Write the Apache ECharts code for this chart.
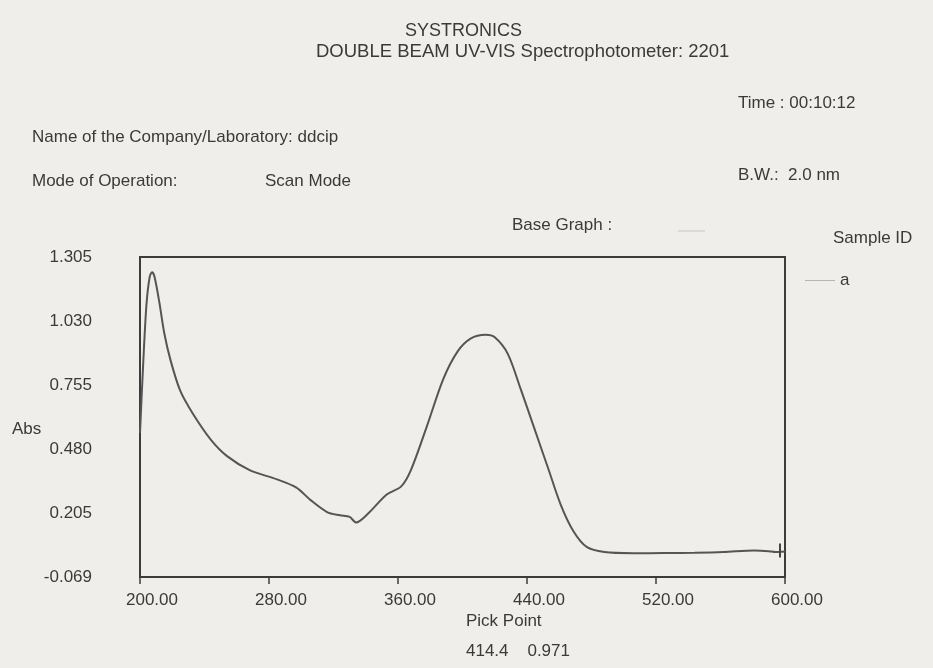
<!DOCTYPE html>
<html>
<head>
<meta charset="utf-8">
<script src="https://cdn.jsdelivr.net/npm/echarts@6/dist/echarts.min.js"></script>
<style>
  html, body { margin: 0; padding: 0; background: #efeeea; }
  #main { width: 933px; height: 668px; }
</style>
</head>
<body>
<div id="main"></div>
<script>
// wavelength (nm) and absorbance
var wavelength = [200, 202, 204, 206, 207.5, 209, 212, 215, 219, 225, 233, 244, 254, 268, 285, 297, 306, 316, 324, 330, 334, 341, 353, 362, 368, 378, 388, 397, 405, 414.4, 420, 428, 436, 444.5, 453, 461, 469, 477, 488, 506, 525, 544, 562, 581, 590, 594, 600]
var absorbance = [0.55, 0.85, 1.10, 1.22, 1.24, 1.22, 1.11, 0.98, 0.86, 0.73, 0.63, 0.52, 0.45, 0.39, 0.35, 0.315, 0.26, 0.21, 0.196, 0.189, 0.165, 0.20, 0.285, 0.32, 0.39, 0.58, 0.78, 0.90, 0.955, 0.971, 0.96, 0.89, 0.74, 0.57, 0.40, 0.24, 0.125, 0.06, 0.038, 0.033, 0.034, 0.035, 0.038, 0.045, 0.042, 0.038, 0.04]
var yTickLabels = ['-0.069', '0.205', '0.480', '0.755', '1.030', '1.305']
var xTickLabels = ['200.00', '280.00', '360.00', '440.00', '520.00', '600.00']
var sampleNames = ['a']
var cursorAt = 597

var txt = '#3a3a3a'
var font = "'Liberation Sans', Arial, sans-serif"

var pts = []
for (var i = 0; i < wavelength.length; i++) {
  pts.push([wavelength[i], absorbance[i]])
}

function label (text, x, y, size) {
  return {
    type: 'text',
    left: x,
    top: y,
    style: { text: text, fill: txt, font: (size || 17) + 'px ' + font }
  }
}

var chart = echarts.init(document.getElementById('main'))
chart.setOption({
  backgroundColor: '#efeeea',
  animation: false,
  grid: {
    left: 140,
    right: 148,
    top: 257,
    bottom: 91,
    show: true,
    borderColor: '#3c3c3c',
    borderWidth: 2
  },
  xAxis: {
    type: 'value',
    min: 200,
    max: 600,
    interval: 80,
    axisLine: { show: false, onZero: false },
    axisTick: { show: true, inside: false, length: 7, lineStyle: { color: '#3c3c3c', width: 1.5 } },
    splitLine: { show: false },
    axisLabel: {
      margin: 15,
      padding: [0, 0, 0, 24],
      color: txt,
      fontSize: 17,
      fontFamily: font,
      formatter: function (v, idx) { return xTickLabels[idx] }
    }
  },
  yAxis: {
    type: 'value',
    min: -0.069,
    max: 1.305,
    interval: (1.305 + 0.069) / 5,
    axisLine: { show: false },
    axisTick: { show: false },
    splitLine: { show: false },
    axisLabel: {
      margin: 48,
      color: txt,
      fontSize: 17,
      fontFamily: font,
      formatter: function (v, idx) { return yTickLabels[idx] }
    }
  },
  legend: {
    left: 800,
    top: 267,
    data: sampleNames,
    icon: 'rect',
    itemWidth: 30,
    itemHeight: 1,
    itemGap: 10,
    itemStyle: { color: '#b5b5b5' },
    textStyle: { color: txt, fontSize: 17, fontFamily: font }
  },
  series: [{
    name: sampleNames[0],
    type: 'line',
    data: pts,
    smooth: 0.3,
    symbol: 'none',
    lineStyle: { color: '#555', width: 2 },
    markLine: {
      silent: true,
      symbol: 'none',
      label: { show: false },
      lineStyle: { color: '#444', width: 2, type: 'solid' },
      data: [[{ coord: [cursorAt, 0.015] }, { coord: [cursorAt, 0.075] }]]
    }
  }],
  graphic: [
    label('SYSTRONICS', 405, 22, 18),
    label('DOUBLE BEAM UV-VIS Spectrophotometer: 2201', 316, 42, 18.5),
    label('Time : 00:10:12', 738, 95),
    label('Name of the Company/Laboratory: ddcip', 32, 129),
    label('Mode of Operation:', 32, 173),
    label('Scan Mode', 265, 173),
    label('B.W.:  2.0 nm', 738, 167),
    label('Base Graph :', 512, 217),
    {
      type: 'line',
      shape: { x1: 678, y1: 231, x2: 705, y2: 231 },
      style: { stroke: '#c4c4c4', lineWidth: 1 }
    },
    label('Sample ID', 833, 230),
    label('Abs', 12, 421),
    label('Pick Point', 466, 613),
    label('414.4    0.971', 466, 643)
  ]
})
</script>
</body>
</html>
